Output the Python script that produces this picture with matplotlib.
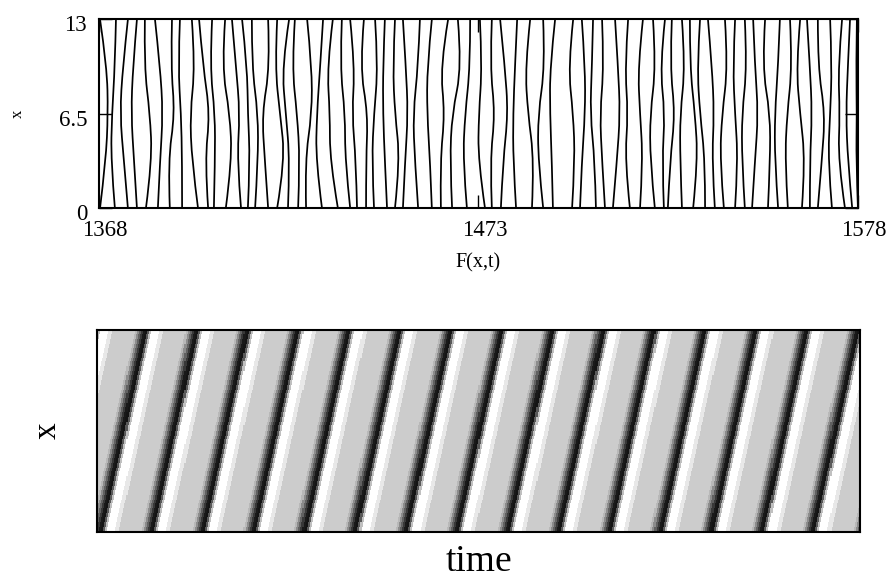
import numpy as np
import matplotlib
matplotlib.use('Agg')
import matplotlib.pyplot as plt
from matplotlib.path import Path
from matplotlib.patches import PathPatch
from matplotlib.transforms import ScaledTranslation

plt.rcParams['font.family'] = ['Liberation Serif', 'DejaVu Serif']

# --- top panel: level lines of F(x,t), t position read at five heights of x ---
x_levels = [13, 9.75, 6.5, 3.25, 0]
t_top = [1368.3, 1372.7, 1376.0, 1378.5, 1380.7, 1383.5, 1388.2, 1390.4, 1393.7, 1395.7,
         1399.3, 1402.9, 1404.8, 1407.6, 1410.3, 1414.8, 1417.3, 1420.6, 1422.2, 1425.6,
         1430.0, 1432.7, 1435.2, 1437.5, 1441.3, 1444.4, 1447.1, 1449.9, 1452.1, 1456.8,
         1460.1, 1464.6, 1467.3, 1470.7, 1473.4, 1476.7, 1479.0, 1483.7, 1487.3, 1490.9,
         1494.2, 1499.2, 1501.6, 1504.7, 1507.2, 1510.8, 1514.4, 1518.5, 1521.3, 1524.6,
         1526.5, 1529.3, 1531.5, 1534.3, 1536.5, 1541.2, 1544.0, 1546.7, 1549.0, 1552.3,
         1556.4, 1559.2, 1562.0, 1563.9, 1566.9, 1570.3, 1573.6, 1575.8, 1577.7]
t_upper = [1370.2, 1372.4, 1374.6, 1377.4, 1380.5, 1384.9, 1387.9, 1389.9, 1394.6, 1396.8,
           1398.7, 1402.0, 1405.9, 1409.0, 1410.3, 1415.3, 1416.7, 1418.6, 1421.4, 1426.9,
           1429.2, 1431.1, 1434.7, 1438.8, 1440.2, 1445.2, 1446.6, 1449.3, 1452.9, 1456.3,
           1458.8, 1462.4, 1468.4, 1470.7, 1474.0, 1476.2, 1480.3, 1483.1, 1485.9, 1491.4,
           1492.8, 1497.8, 1502.5, 1504.4, 1507.7, 1511.6, 1513.5, 1517.1, 1522.1, 1523.2,
           1526.0, 1530.2, 1531.5, 1533.5, 1537.6, 1542.0, 1543.4, 1547.3, 1549.5, 1551.5,
           1555.9, 1559.8, 1560.9, 1564.7, 1566.9, 1570.8, 1572.5, 1575.2, 1577.5]
t_mid = [1370.5, 1371.6, 1373.8, 1376.9, 1382.1, 1385.7, 1389.0, 1390.7, 1393.2, 1398.7,
         1400.1, 1404.2, 1407.0, 1409.2, 1412.0, 1413.1, 1418.1, 1419.7, 1422.8, 1426.9,
         1428.3, 1431.9, 1436.1, 1438.0, 1442.4, 1444.1, 1446.6, 1449.9, 1453.5, 1454.9,
         1458.8, 1463.7, 1465.7, 1469.3, 1473.1, 1477.6, 1481.2, 1482.6, 1486.7, 1489.5,
         1492.8, 1499.2, 1502.5, 1503.9, 1506.6, 1512.2, 1514.4, 1517.7, 1520.5, 1524.6,
         1527.4, 1528.8, 1532.9, 1534.3, 1538.2, 1540.4, 1544.0, 1545.9, 1550.4, 1553.7,
         1555.0, 1558.4, 1562.0, 1565.3, 1568.9, 1570.3, 1573.0, 1574.7, 1577.7]
t_lower = [1369.9, 1371.3, 1374.9, 1377.7, 1382.7, 1384.9, 1387.1, 1391.0, 1393.7, 1397.3,
           1400.1, 1404.8, 1406.2, 1409.8, 1412.0, 1413.9, 1419.5, 1420.8, 1423.6, 1425.0,
           1428.0, 1431.9, 1436.1, 1439.1, 1441.9, 1443.5, 1447.1, 1451.3, 1452.7, 1455.4,
           1459.6, 1462.4, 1465.1, 1468.7, 1472.9, 1476.2, 1479.8, 1482.6, 1488.4, 1489.5,
           1493.3, 1499.7, 1501.6, 1505.2, 1507.2, 1511.3, 1513.5, 1518.5, 1520.5, 1523.8,
           1526.0, 1528.8, 1533.7, 1535.7, 1537.6, 1539.8, 1544.8, 1545.9, 1549.5, 1553.7,
           1555.0, 1557.8, 1563.4, 1564.7, 1568.0, 1569.7, 1572.5, 1575.2, 1577.5]
t_bottom = [1368.3, 1372.4, 1376.0, 1378.5, 1381.0, 1384.3, 1387.6, 1391.0, 1395.4, 1398.2,
            1399.8, 1403.1, 1407.3, 1409.2, 1411.2, 1414.8, 1417.3, 1420.3, 1423.1, 1425.3,
            1429.7, 1434.1, 1437.5, 1439.4, 1441.9, 1444.1, 1447.7, 1449.9, 1452.1, 1456.3,
            1460.1, 1462.6, 1465.7, 1469.8, 1474.8, 1476.7, 1479.2, 1483.4, 1487.8, 1490.9,
            1493.6, 1498.9, 1501.1, 1505.5, 1508.0, 1510.2, 1514.9, 1517.7, 1521.8, 1524.3,
            1525.4, 1529.3, 1532.4, 1535.7, 1538.4, 1540.9, 1544.0, 1546.7, 1548.7, 1553.1,
            1555.9, 1558.6, 1562.5, 1564.7, 1566.9, 1570.8, 1574.4, 1576.4, 1578.0]

t_ticks = [1368, 1473, 1578]
x_ticks = [0, 6.5, 13]

# --- bottom panel: travelling stripe pattern ---
n_periods = 15          # stripes across the time window
phase_bottom = 0.087    # stripe phase at x = 0 (left edge)
drift = 0.886           # periods the stripe shifts from bottom to top
# grey level across one stripe period, starting at the dark core
stripe_gray = [0.08, 0.35, 0.75, 1.0, 1.0, 1.0, 1.0, 0.91, 0.91,
               0.8, 0.8, 0.8, 0.8, 0.8, 0.8, 0.8, 0.8, 0.8, 0.8, 0.8,
               0.72, 0.55, 0.38, 0.22, 0.1]


def smooth_path(ts, xs):
    # quadratic B-spline style path: read points act as control points
    pts = list(zip(ts, xs))
    verts = [pts[0]]
    codes = [Path.MOVETO]
    for i in range(1, len(pts) - 1):
        if i < len(pts) - 2:
            end = ((pts[i][0] + pts[i + 1][0]) / 2, (pts[i][1] + pts[i + 1][1]) / 2)
        else:
            end = pts[i + 1]
        verts += [pts[i], end]
        codes += [Path.CURVE3, Path.CURVE3]
    return Path(verts, codes)


fig = plt.figure(figsize=(8.9, 5.8), dpi=100)

# top panel
ax1 = fig.add_axes([0.1112, 0.6414, 0.8528, 0.325])
lines = np.array([t_top, t_upper, t_mid, t_lower, t_bottom])
for k in range(lines.shape[1]):
    p = smooth_path(lines[:, k], x_levels)
    ax1.add_patch(PathPatch(p, fill=False, edgecolor='black', lw=1.25))
ax1.set_xlim(1368, 1578)
ax1.set_ylim(0, 13)
ax1.set_xticks(t_ticks)
ax1.set_xticklabels([str(v) for v in t_ticks])
ax1.set_yticks(x_ticks)
ax1.set_yticklabels(['0', '6.5', '13'])
ax1.tick_params(direction='in', length=9.5, width=1.0, top=True, right=True,
                labelsize=16.5, pad=8.5)
for sp in ax1.spines.values():
    sp.set_linewidth(1.5)
ax1.set_xlabel('F(x,t)', fontsize=14.5, labelpad=9)
ax1.set_ylabel('x', fontsize=12)
ax1.yaxis.set_label_coords(-0.096, 0.5)

dx = ScaledTranslation(6 / 100, 0, fig.dpi_scale_trans)
dy = ScaledTranslation(0, -4 / 100, fig.dpi_scale_trans)
for lab in ax1.get_xticklabels():
    lab.set_transform(lab.get_transform() + dx)
for lab in ax1.get_yticklabels():
    lab.set_transform(lab.get_transform() + dy)

# bottom panel
ax2 = fig.add_axes([0.1093, 0.0828, 0.857, 0.3483])
n_cols = n_periods * len(stripe_gray) * 2
n_rows = 120
t_grid = (np.arange(n_cols) + 0.5) / n_cols * n_periods
s_grid = (np.arange(n_rows) + 0.5) / n_rows
phase = (t_grid[None, :] - phase_bottom - drift * s_grid[:, None]
         + 0.5 / len(stripe_gray)) % 1.0
idx = np.minimum((phase * len(stripe_gray)).astype(int), len(stripe_gray) - 1)
img = np.array(stripe_gray)[idx]
ax2.imshow(img, cmap='gray', vmin=0, vmax=1, origin='lower',
           extent=[0, n_periods, 0, 1], aspect='auto', interpolation='nearest')
ax2.set_xticks([])
ax2.set_yticks([])
for sp in ax2.spines.values():
    sp.set_linewidth(1.5)
ax2.set_xlabel('time', fontsize=27, labelpad=9)
ax2.set_ylabel('x', fontsize=24)
ax2.yaxis.set_label_coords(-0.045, 0.5)

fig.savefig('out.png', dpi=100)
